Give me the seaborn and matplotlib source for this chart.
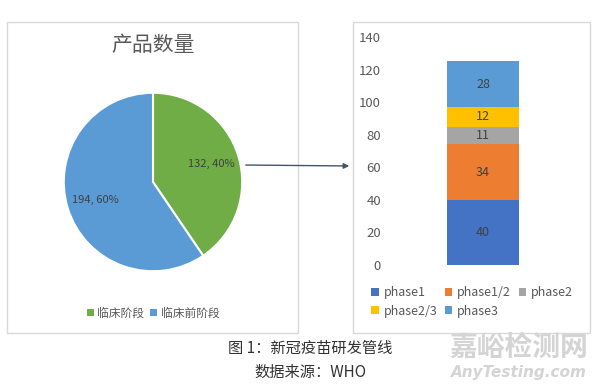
import numpy as np
import pandas as pd
import seaborn as sns
from matplotlib import pyplot as plt
from matplotlib.patches import Rectangle, Patch, FancyArrowPatch

# pie: clinical vs pre-clinical
stage_labels = ['临床阶段', '临床前阶段']
stage_counts = [132, 194]
stage_colors = ['#70AD47', '#5B9BD5']

# stacked bar: clinical phases
phases = ['phase1', 'phase1/2', 'phase2', 'phase2/3', 'phase3']
phase_counts = [40, 34, 11, 12, 28]
phase_colors = ['#4472C4', '#ED7D31', '#A5A5A5', '#FFC000', '#5B9BD5']
y_ticks = [0, 20, 40, 60, 80, 100, 120, 140]

sns.set_theme(style='white')
plt.rcParams['font.family'] = ['Noto Sans CJK SC', 'DejaVu Sans']

W, H = 600, 388
fig = plt.figure(figsize=(6, 3.88), dpi=100)
fig.patch.set_facecolor('white')

def px_rect(x0, y0, x1, y1):
	return [x0 / W, 1 - y1 / H, (x1 - x0) / W, (y1 - y0) / H]

def frame(x0, y0, x1, y1):
	fig.add_artist(Rectangle((x0 / W, 1 - y1 / H), (x1 - x0) / W, (y1 - y0) / H,
		transform=fig.transFigure, fill=False, edgecolor='#d9d9d9', lw=1))

frame(7, 22, 298, 333)
frame(353, 22, 590, 333)

# ---- pie ----
ax_pie = fig.add_axes(px_rect(62, 91, 244, 273))
total = sum(stage_counts)
ax_pie.pie(stage_counts, colors=stage_colors, startangle=90, counterclock=False,
	wedgeprops=dict(edgecolor='white', linewidth=1.5),
	autopct=lambda p: '%d, %.0f%%' % (round(p * total / 100), p),
	pctdistance=0.68, textprops=dict(fontsize=8, color='#404040'))
ax_pie.set_aspect('equal')
ax_pie.set_xlim(-1.02, 1.02)
ax_pie.set_ylim(-1.02, 1.02)
ax_pie.axis('off')

fig.text(153 / W, 1 - 45 / H, '产品数量', ha='center', va='center', fontsize=15, color='#595959')

pie_handles = [Patch(facecolor=c, edgecolor='none') for c in stage_colors]
fig.legend(pie_handles, stage_labels, loc='center', bbox_to_anchor=(153 / W, 1 - 313 / H),
	ncol=2, frameon=False, fontsize=8.5, labelcolor='#595959', handlelength=0.6,
	handleheight=0.6, handletextpad=0.3, columnspacing=0.5)

# ---- stacked bar ----
ax_bar = fig.add_axes(px_rect(395, 37, 571, 265))
tops = np.cumsum(phase_counts)
for i in reversed(range(len(phases))):
	sns.barplot(x=[''], y=[tops[i]], color=phase_colors[i], saturation=1, width=0.41,
		linewidth=0, ax=ax_bar)
for i, v in enumerate(phase_counts):
	ax_bar.text(0, tops[i] - v / 2, str(v), ha='center', va='center', fontsize=9, color='#404040')
ax_bar.set_ylim(0, 140)
ax_bar.set_xlim(-0.5, 0.5)
ax_bar.set_yticks(y_ticks)
ax_bar.set_xticks([])
ax_bar.set_xlabel('')
ax_bar.set_ylabel('')
ax_bar.tick_params(axis='y', length=0, labelsize=9.5, labelcolor='#595959', pad=10)
for s in ax_bar.spines.values():
	s.set_visible(False)
ax_bar.set_facecolor('none')

# legend is filled column by column, so reorder to read row by row
order = [0, 3, 1, 4, 2]
phase_handles = [Patch(facecolor=phase_colors[i], edgecolor='none') for i in order]
fig.legend(phase_handles, [phases[i] for i in order], loc='upper left',
	bbox_to_anchor=(371 / W, 1 - 286 / H),
	ncol=3, frameon=False, fontsize=9, labelcolor='#595959', handlelength=0.6,
	handleheight=0.6, handletextpad=0.4, columnspacing=0.6, labelspacing=0.45,
	borderpad=0, borderaxespad=0)

# connector arrow
fig.add_artist(FancyArrowPatch((243 / W, 1 - 165 / H), (352 / W, 1 - 166 / H),
	transform=fig.transFigure, arrowstyle='-|>', mutation_scale=8,
	color='#44546A', lw=1))

# caption
fig.text(310 / W, 1 - 348 / H, '图 1：新冠疫苗研发管线', ha='center', va='center',
	fontsize=11, color='#333333')
fig.text(310 / W, 1 - 372 / H, '数据来源：WHO', ha='center', va='center',
	fontsize=11, color='#333333')

# watermark
fig.text(519 / W, 1 - 348 / H, '嘉峪检测网', ha='center', va='center',
	fontsize=20, color='#d4d4d4', fontweight='bold')
fig.text(519 / W, 1 - 373 / H, 'AnyTesting.com', ha='center', va='center',
	fontsize=11, color='#d4d4d4', style='italic', fontweight='bold', family='DejaVu Sans')

fig.savefig('out.png', dpi=100)
